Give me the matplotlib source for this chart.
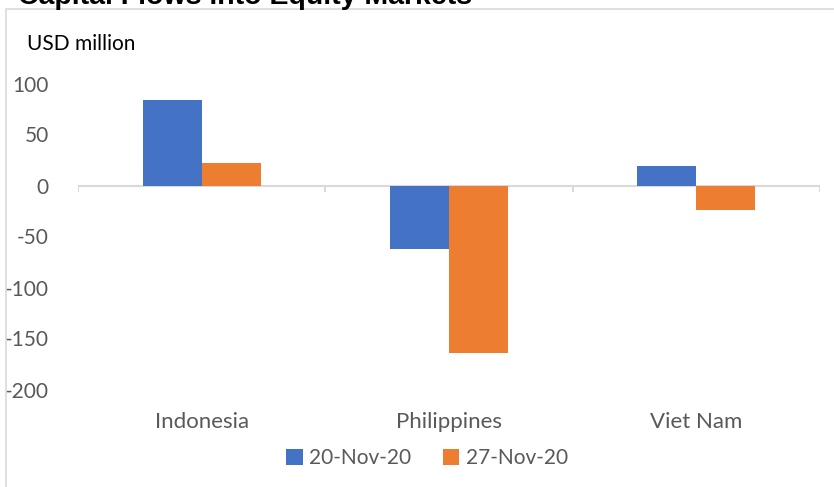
"""Capital flows into equity markets: grouped bars per country, two weeks."""

import numpy as np
import matplotlib
matplotlib.use('Agg')
import matplotlib.pyplot as plt
from matplotlib.patches import Rectangle
from matplotlib.transforms import blended_transform_factory

countries = ['Indonesia', 'Philippines', 'Viet Nam']
series_names = ['20-Nov-20', '27-Nov-20']
flows_nov20 = [84, -62, 19]
flows_nov27 = [22, -164, -24]
y_ticks = [100, 50, 0, -50, -100, -150, -200]

BLUE = '#4472c4'
ORANGE = '#ed7d31'
GRAY_TXT = '#595959'
GRAY_LINE = '#d9d9d9'

plt.rcParams['font.family'] = ['Lato', 'DejaVu Sans']

fig = plt.figure(figsize=(8.34, 4.87), dpi=100)
W, H = 834, 487

# outer chart frame (only top and left edges show in the crop)
fig.patches.append(Rectangle((6 / W, -0.1), 1.2, 1 - 9 / H + 0.1,
                             transform=fig.transFigure, fill=False,
                             edgecolor=GRAY_LINE, linewidth=1.2))

# title, cut off at the top like the source
fig.text(18 / W, 1 - 4 / H, 'Capital Flows into Equity Markets',
         fontsize=20.5, fontweight='bold', family=['Liberation Sans', 'DejaVu Sans'],
         ha='left', va='baseline', color='black')

ax = fig.add_axes([78 / W, 1 - 389.5 / H, (820 - 78) / W, (389.5 - 83.5) / H])

x = np.arange(len(countries))
bw = 0.239
ax.bar(x - bw / 2, flows_nov20, bw, color=BLUE, label=series_names[0])
ax.bar(x + bw / 2, flows_nov27, bw, color=ORANGE, label=series_names[1])

ax.set_xlim(-0.5, len(countries) - 0.5)
ax.set_ylim(-200, 100)
ax.set_yticks(y_ticks)
ax.set_yticklabels([str(v) for v in y_ticks])
ax.tick_params(axis='y', length=0, pad=21, labelsize=15, labelcolor=GRAY_TXT)

for s in ax.spines.values():
    s.set_visible(False)
ax.set_xticks([])

# zero line with category boundary ticks
ax.axhline(0, color=GRAY_LINE, linewidth=1.5, zorder=0)
for b in np.arange(-0.5, len(countries), 1.0):
    ax.plot([b, b], [0, -5], color=GRAY_LINE, linewidth=1.5, zorder=0)

cat_trans = blended_transform_factory(ax.transData, fig.transFigure)
for xi, name in zip(x, countries):
    ax.text(xi, 1 - 422 / H, name, transform=cat_trans,
            ha='center', va='center', fontsize=16, color=GRAY_TXT)

fig.text(27 / W, 1 - 44 / H, 'USD million', fontsize=15, color='black',
         ha='left', va='center')

fig.legend(loc='center', bbox_to_anchor=(427 / W, 1 - 458 / H), ncol=2,
           frameon=False, fontsize=15, labelcolor=GRAY_TXT,
           handlelength=0.8, handleheight=0.8, handletextpad=0.3,
           columnspacing=1.5)

fig.savefig('out.png', dpi=100)
